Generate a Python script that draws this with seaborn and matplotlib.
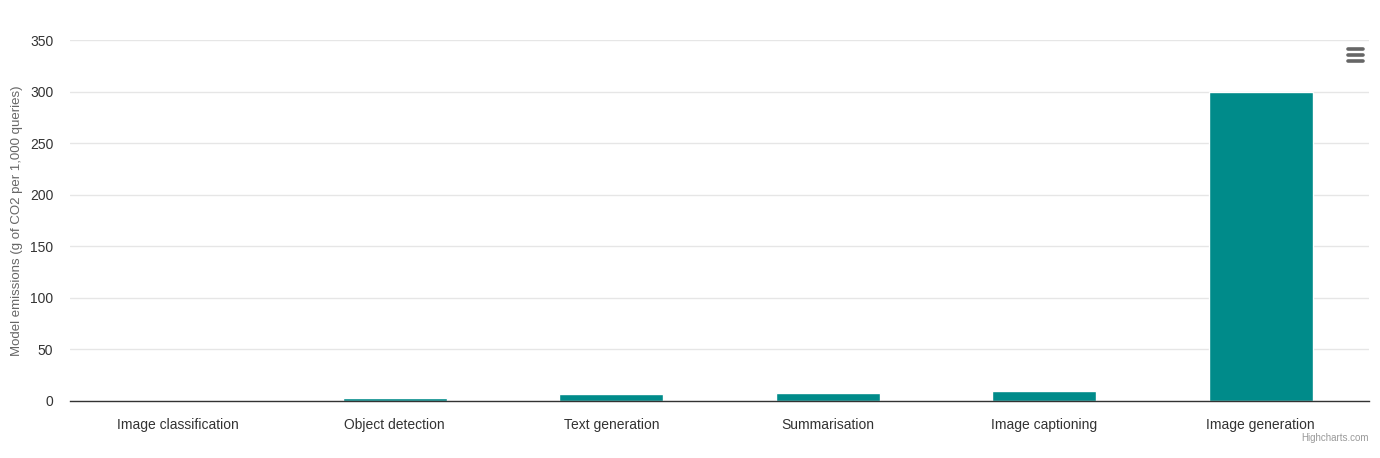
import matplotlib
matplotlib.use('Agg')
import matplotlib.pyplot as plt
import seaborn as sns
import pandas as pd
from matplotlib.lines import Line2D

# Data
tasks = ['Image classification', 'Object detection', 'Text generation',
         'Summarisation', 'Image captioning', 'Image generation']
emissions = [0.1, 2.8, 6.9, 7.8, 9.8, 300.0]
y_ticks = [0, 50, 100, 150, 200, 250, 300, 350]

sns.set_theme(style='white')
plt.rcParams['font.family'] = ['Liberation Sans', 'DejaVu Sans']

df = pd.DataFrame({'task': tasks, 'emissions': emissions})

W, H = 1380, 458
fig = plt.figure(figsize=(W / 100, H / 100), dpi=100)
ax = fig.add_axes([70 / W, (H - 401) / H, (1369 - 70) / W, (401 - 40) / H])

sns.barplot(data=df, x='task', y='emissions', color='#008b8a', width=0.48,
            saturation=1, ax=ax, zorder=3)

ax.set_xlim(-0.5, len(tasks) - 0.5)
ax.set_ylim(0, 350)
ax.set_yticks(y_ticks)
ax.set_yticklabels([str(t) for t in y_ticks])
ax.grid(axis='y', color='#e6e6e6', linewidth=1, zorder=0)
ax.set_axisbelow(True)

for side in ['top', 'right', 'left']:
    ax.spines[side].set_visible(False)
ax.spines['bottom'].set_color('#333333')
ax.spines['bottom'].set_linewidth(1.0)
ax.spines['bottom'].set_zorder(4)

ax.tick_params(axis='y', length=0, pad=12, labelsize=10, labelcolor='#333333')
ax.tick_params(axis='x', length=0, pad=12, labelsize=10, labelcolor='#333333')
ax.set_xlabel('')
ax.set_ylabel('Model emissions (g of CO2 per 1,000 queries)', fontsize=9.5,
              color='#666666')
ax.yaxis.set_label_coords(-0.036, 0.5)

# credit text
fig.text(1369 / W, (H - 438) / H, 'Highcharts.com', ha='right', va='center',
         fontsize=7, color='#999999')

# context menu icon
for yy in [49, 55, 61]:
    fig.add_artist(Line2D([1348 / W, 1363 / W], [(H - yy) / H] * 2,
                          color='#666666', linewidth=2.6, solid_capstyle='round'))

fig.savefig('out.png', dpi=100)
